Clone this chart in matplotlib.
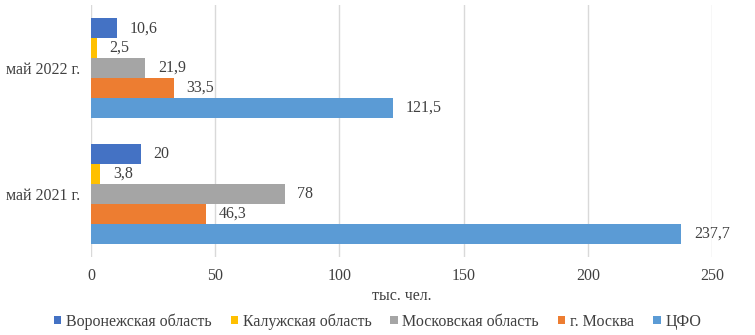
import matplotlib.pyplot as plt
import numpy as np

plt.rcParams['font.family'] = ['Liberation Serif', 'DejaVu Serif']

categories = ["май 2021 г.", "май 2022 г."]
series_names = ["Воронежская область", "Калужская область", "Московская область",
                "г. Москва", "ЦФО"]
voronezh = [20, 10.6]
kaluga = [3.8, 2.5]
moscow_obl = [78, 21.9]
moscow = [46.3, 33.5]
cfo = [237.7, 121.5]
colors = ["#4472C4", "#FFC000", "#A5A5A5", "#ED7D31", "#5B9BD5"]

data = [voronezh, kaluga, moscow_obl, moscow, cfo]

fig = plt.figure(figsize=(7.55, 3.35), dpi=100)
ax = fig.add_axes([0.1205, 0.233, 0.8225, 0.752])

y = np.arange(len(categories))
h = 0.158
for i, (vals, name, c) in enumerate(zip(data, series_names, colors)):
    pos = y + (2 - i) * h
    ax.barh(pos, vals, height=h, color=c, label=name, zorder=3)
    for p, v in zip(pos, vals):
        lbl = ("%g" % v).replace(".", ",")
        ax.annotate(lbl, (v, p), xytext=(9, 0), textcoords="offset points",
                    va="center", ha="left", fontsize=11.5, color="#404040")

ax.set_xlim(0, 250)
ax.set_ylim(-0.5, 1.5)
ax.set_xticks([0, 50, 100, 150, 200, 250])
ax.set_yticks(y)
ax.set_yticklabels(categories)
ax.tick_params(length=0, labelsize=11.5, colors="#404040")
ax.tick_params(axis="x", pad=8)
ax.tick_params(axis="y", pad=8)
ax.grid(axis="x", color="#D9D9D9", linewidth=1, zorder=0)
for s in ax.spines.values():
    s.set_visible(False)
ax.set_xlabel("тыс. чел.", fontsize=11.5, color="#404040", labelpad=3)

fig.legend(loc="center", bbox_to_anchor=(0.5, 0.04), ncol=5, frameon=False,
           fontsize=11.5, handlelength=0.45, handleheight=0.45, handletextpad=0.3,
           columnspacing=1.2, labelcolor="#404040")

fig.savefig("out.png", dpi=100)
